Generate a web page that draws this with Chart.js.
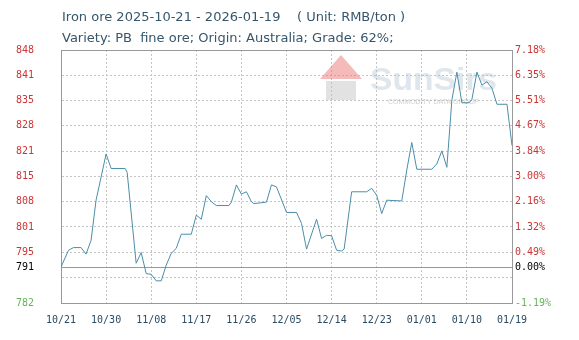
<!DOCTYPE html>
<html>
<head>
<meta charset="utf-8">
<script src="https://cdn.jsdelivr.net/npm/chart.js@4.4.1/dist/chart.umd.min.js"></script>
<style>
  html, body { margin: 0; padding: 0; background: #fff; }
  #wrap { width: 579px; height: 340px; position: relative; }
</style>
</head>
<body>
<div id="wrap"><canvas id="chart"></canvas></div>
<script>
const titleText = "Iron ore 2025-10-21 - 2026-01-19    ( Unit: RMB/ton )";
const subtitleText = "Variety: PB  fine ore; Origin: Australia; Grade: 62%;";

// day offsets from 2025-10-21, and price
const days = [0, 1.5, 2.5, 4, 5, 6, 7, 9, 10, 12.8, 13.2, 15, 16, 17, 18, 19, 20, 21, 22, 23, 24, 26,
  27, 28, 29, 30, 31, 33.5, 34, 35, 36, 37, 38, 38.5, 41, 42, 43, 45, 47, 48, 49, 51, 52, 53, 54, 55,
  56, 56.5, 58, 61, 62, 63, 64, 65, 68, 69, 70, 71, 74, 75, 76, 77, 78, 79, 80, 81.5, 82, 83, 84, 85,
  86, 87, 89, 90];
const prices = [791, 795.4, 796.1, 796.1, 794.4, 798, 808.5, 820.6, 816.8, 816.8, 815.8, 792, 794.8,
  789.3, 789.1, 787.4, 787.4, 791.5, 794.6, 795.9, 799.6, 799.6, 804.6, 803.5, 809.7, 808.1, 807.1,
  807.1, 808, 812.5, 810.1, 810.7, 808.1, 807.6, 808, 812.5, 812, 805.3, 805.3, 802.4, 795.7, 803.5,
  798.5, 799.3, 799.2, 795.4, 795.2, 795.7, 810.7, 810.7, 811.6, 809.8, 805, 808.5, 808.3, 816.4,
  823.6, 816.6, 816.6, 818, 821.4, 817.1, 834.7, 842, 834, 834, 834.9, 842, 838.6, 839.5, 837.8,
  833.6, 833.6, 822.8];

const basePrice = 791;
const yTicks = [781.6, 788.2, 791, 794.8, 801.5, 808.1, 814.7, 821.3, 828.0, 834.6, 841.2, 847.8];
const leftLabels = ["782", "", "791", "795", "801", "808", "815", "821", "828", "835", "841", "848"];
const rightLabels = ["-1.19%", "", "0.00%", "0.49%", "1.32%", "2.16%", "3.00%", "3.84%", "4.67%",
  "5.51%", "6.35%", "7.18%"];
const xTickDays = [0, 9, 18, 27, 36, 45, 54, 63, 72, 81, 90];
const xTickLabels = ["10/21", "10/30", "11/08", "11/17", "11/26", "12/05", "12/14", "12/23", "01/01",
  "01/10", "01/19"];

const yMin = yTicks[0];
const yMax = yTicks[yTicks.length - 1];
const tickFont = { family: "'DejaVu Sans Mono', monospace", size: 10 };
const gridGrey = "#c4c4c4";

function labelColor(v) {
  if (v === basePrice) return "#000";
  if (v < basePrice) return "#66b35a";
  return "#cc3535";
}
function isEdgeOrBase(v) {
  return v === basePrice || v === yMax;
}

const titlePlugin = {
  id: "titles",
  afterDraw(chart) {
    const { ctx, chartArea } = chart;
    ctx.save();
    ctx.fillStyle = "#36566c";
    ctx.font = "13px 'DejaVu Sans', sans-serif";
    ctx.textBaseline = "middle";
    ctx.fillText(titleText, chartArea.left + 1, 18);
    ctx.fillText(subtitleText, chartArea.left + 1, 39);
    ctx.restore();
  }
};

// faint logo behind the line
const watermarkPlugin = {
  id: "watermark",
  beforeDatasetsDraw(chart) {
    const ctx = chart.ctx;
    ctx.save();
    ctx.fillStyle = "rgba(235,120,120,0.5)";
    ctx.beginPath();
    ctx.moveTo(341, 55);
    ctx.lineTo(362, 79);
    ctx.lineTo(320, 79);
    ctx.closePath();
    ctx.fill();
    ctx.fillStyle = "rgba(190,190,190,0.45)";
    ctx.fillRect(326, 81, 30, 19);
    ctx.font = "bold 31px 'Liberation Sans', Arial, sans-serif";
    ctx.fillStyle = "rgba(175,192,208,0.4)";
    ctx.textBaseline = "alphabetic";
    const w = ctx.measureText("SunSirs").width;
    ctx.translate(370, 90);
    ctx.scale(127 / w, 1);
    ctx.fillText("SunSirs", 0, 0);
    ctx.setTransform(1, 0, 0, 1, 0, 0);
    ctx.font = "7px 'Liberation Sans', Arial, sans-serif";
    ctx.fillStyle = "rgba(170,170,170,0.55)";
    ctx.fillText("COMMODITY DATA GROUP", 388, 104);
    ctx.restore();
  }
};

new Chart(document.getElementById("chart"), {
  type: "line",
  data: {
    datasets: [{
      data: days.map((d, i) => ({ x: d, y: prices[i] })),
      borderColor: "#4a8ea8",
      borderWidth: 1,
      pointRadius: 0,
      tension: 0,
      fill: false
    }]
  },
  options: {
    responsive: true,
    maintainAspectRatio: false,
    animation: false,
    layout: { padding: { top: 50, left: 16, right: 0, bottom: 0 } },
    plugins: { legend: { display: false }, tooltip: { enabled: false } },
    scales: {
      x: {
        type: "linear",
        min: 0,
        max: 90,
        afterBuildTicks: (s) => { s.ticks = xTickDays.map((v) => ({ value: v })); },
        afterFit: (s) => { s.height = 37; },
        ticks: {
          callback: (v, i) => xTickLabels[i],
          color: "#2b4b62",
          font: tickFont,
          padding: 11,
          maxRotation: 0,
          autoSkip: false
        },
        grid: {
          drawTicks: false,
          color: (c) => (c.tick && (c.tick.value === 0 || c.tick.value === 90)) ? "#999" : gridGrey
        },
        border: {
          color: "#999",
          dash: (c) => (c.tick && c.tick.value !== 0 && c.tick.value !== 90) ? [2, 2] : []
        }
      },
      y: {
        position: "left",
        min: yMin,
        max: yMax,
        afterBuildTicks: (s) => { s.ticks = yTicks.map((v) => ({ value: v })); },
        afterFit: (s) => { s.width = 45; },
        ticks: {
          callback: (v, i) => leftLabels[i],
          color: (c) => labelColor(c.tick.value),
          font: tickFont,
          crossAlign: "far",
          autoSkip: false
        },
        grid: {
          drawTicks: false,
          color: (c) => (c.tick && isEdgeOrBase(c.tick.value)) ? "#999" : gridGrey
        },
        border: {
          color: "#999",
          dash: (c) => (c.tick && !isEdgeOrBase(c.tick.value) && c.tick.value !== yMin) ? [2, 2] : []
        }
      },
      y1: {
        position: "right",
        min: yMin,
        max: yMax,
        afterBuildTicks: (s) => { s.ticks = yTicks.map((v) => ({ value: v })); },
        afterFit: (s) => { s.width = 67; },
        ticks: {
          callback: (v, i) => rightLabels[i],
          color: (c) => labelColor(c.tick.value),
          font: tickFont,
          padding: 3,
          autoSkip: false
        },
        grid: { display: false, drawTicks: false },
        border: { color: "#999" }
      }
    }
  },
  plugins: [titlePlugin, watermarkPlugin]
});
</script>
</body>
</html>
